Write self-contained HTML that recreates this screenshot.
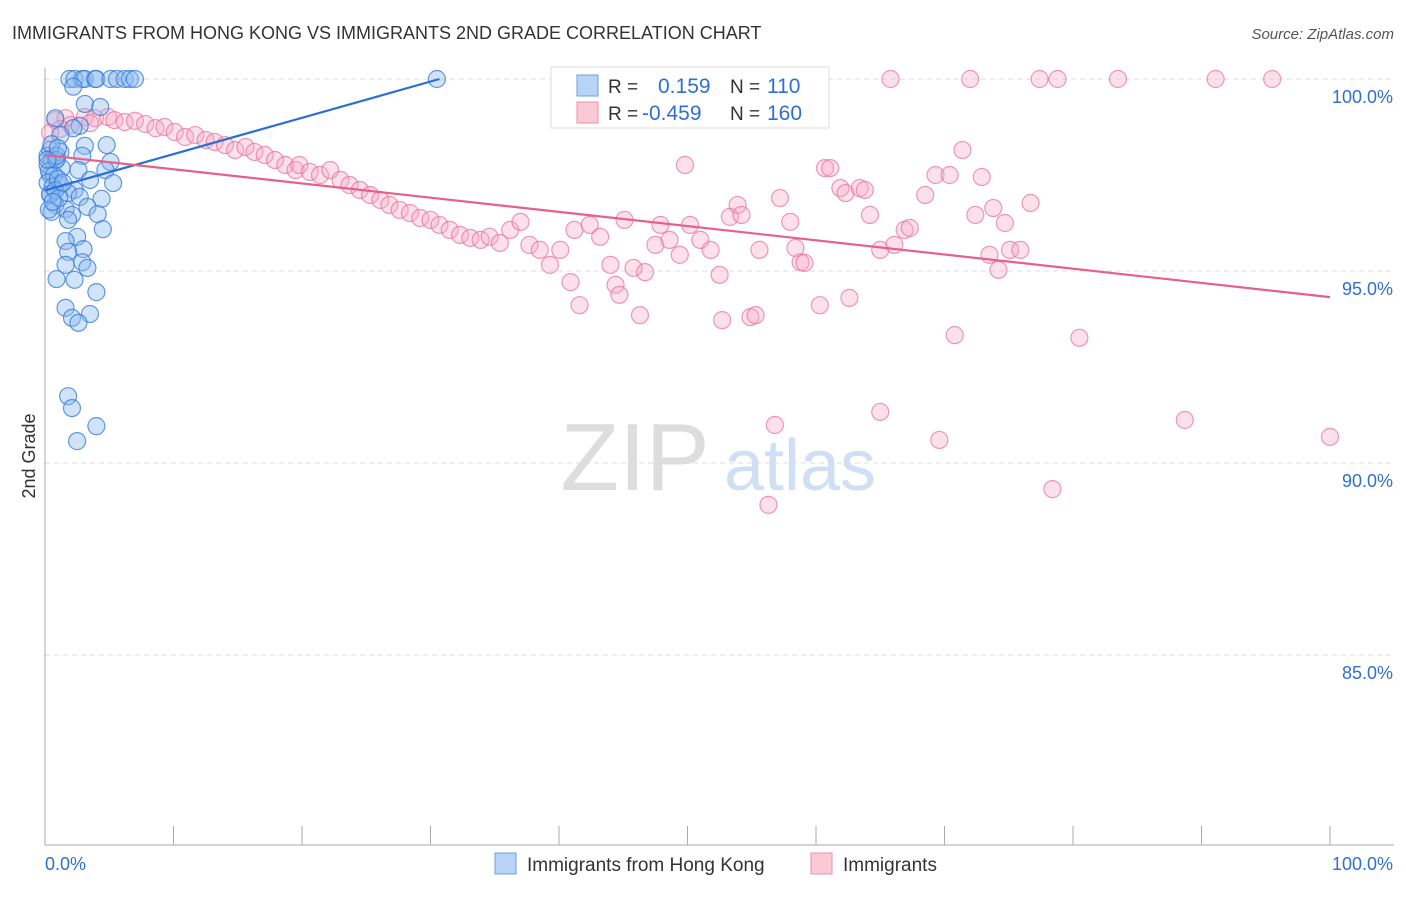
<!DOCTYPE html>
<html><head><meta charset="utf-8"><style>
body{margin:0;background:#fff;font-family:"Liberation Sans",sans-serif;}
svg text{font-family:"Liberation Sans",sans-serif;}
</style></head><body>
<svg id="chart" width="1406" height="892" xmlns="http://www.w3.org/2000/svg">
<text x="12" y="39" font-size="18" fill="#333">IMMIGRANTS FROM HONG KONG VS IMMIGRANTS 2ND GRADE CORRELATION CHART</text>
<text x="1394" y="39" font-size="15" fill="#555" text-anchor="end" font-style="italic">Source: ZipAtlas.com</text>
<text x="35" y="456" font-size="18" fill="#333" text-anchor="middle" transform="rotate(-90 35 456)">2nd Grade</text>
<g><text x="635" y="490" font-size="96" fill="#ddd" text-anchor="middle" font-family="Liberation Serif">ZIP</text><text x="800" y="490" font-size="72" fill="#cfe0f4" text-anchor="middle">atlas</text></g>
<g id="grid"></g><g id="axes"></g><g id="lines"></g><g id="pts"></g>
<g>
<rect x="551" y="67" width="278" height="61" fill="#fff" stroke="#ddd"/>
<rect x="577" y="75" width="21" height="21" fill="#b8d3f5" stroke="#6a9fe0"/>
<rect x="577" y="102" width="21" height="21" fill="#fbc8d6" stroke="#ee90aa"/>
<text x="608" y="93" font-size="19" fill="#333">R =</text><text x="658" y="93" font-size="21" fill="#2f6fd1">0.159</text>
<text x="730" y="93" font-size="19" fill="#333">N =</text><text x="767" y="93" font-size="21" fill="#2f6fd1">110</text>
<text x="608" y="120" font-size="19" fill="#333">R =</text><text x="642" y="120" font-size="21" fill="#2f6fd1">-0.459</text>
<text x="730" y="120" font-size="19" fill="#333">N =</text><text x="767" y="120" font-size="21" fill="#2f6fd1">160</text>
</g>
<g>
<rect x="495" y="853" width="21" height="21" fill="#b8d3f5" stroke="#6a9fe0"/>
<text x="527" y="871" font-size="19" fill="#333">Immigrants from Hong Kong</text>
<rect x="811" y="853" width="21" height="21" fill="#fbc8d6" stroke="#ee90aa"/>
<text x="843" y="871" font-size="19" fill="#333">Immigrants</text>
</g>
</svg>
<script>
const xTicks=[0,10,20,30,40,50,60,70,80,90,100];
const yTicks=[100,95,90,85];
const yTickLabels=["100.0%","95.0%","90.0%","85.0%"];
const xEndLabels=["0.0%","100.0%"];
const blueX=[1.9,2.3,2.9,3.1,3.9,4.0,5.1,5.6,6.2,6.6,7.0,30.5,2.2,3.1,4.3,0.8,2.7,2.2,1.2,4.8,3.1,0.4,1.2,2.9,5.1,0.8,0.2,1.3,2.6,0.4,4.7,3.5,5.3,1.2,2.3,1.8,0.4,2.7,4.4,0.8,1.6,3.3,0.5,2.1,4.1,1.8,4.5,2.5,1.6,3.0,1.8,2.9,1.6,3.3,2.3,0.9,4.0,1.6,3.5,2.1,2.6,1.8,2.1,4.0,2.5,0.2,0.5,0.3,0.7,0.2,0.6,0.9,1.0,0.4,0.8,0.3,1.1,0.5,0.9,1.4,0.2,1.0,0.6];
const blueY=[100,100,100,100,100,100,100,100,100,100,100,100,99.8,99.35,99.27,98.98,98.78,98.72,98.54,98.28,98.26,98.15,98.1,98.0,97.84,97.89,97.76,97.68,97.63,97.5,97.63,97.37,97.29,97.24,97.11,97.03,96.98,96.93,96.88,96.72,96.61,96.67,96.54,96.46,96.48,96.33,96.09,95.89,95.78,95.57,95.5,95.23,95.16,95.08,94.77,94.79,94.45,94.04,93.88,93.78,93.65,91.74,91.43,90.96,90.57,98.0,97.9,97.6,97.5,97.3,97.2,97.9,97.4,97.0,97.1,96.6,96.9,98.3,98.0,97.3,97.9,98.2,96.8];
const pinkX=[0.8,1.6,3.1,3.9,4.9,5.4,6.2,7.0,7.8,8.6,9.3,10.1,10.9,11.7,12.5,13.2,14.0,14.8,15.6,16.3,17.1,17.9,18.7,19.5,19.8,20.6,21.4,22.2,23.0,23.7,24.5,25.3,26.1,26.8,27.6,28.4,29.2,30.0,30.7,31.5,32.3,33.1,33.9,34.6,35.4,36.2,37.0,37.7,38.5,39.3,40.1,40.9,41.2,41.6,42.4,43.2,44.0,44.4,44.7,45.1,45.8,46.3,46.7,47.5,47.9,48.6,49.4,49.8,50.2,51.0,51.8,52.5,52.7,53.3,53.9,54.2,54.9,55.3,55.6,56.8,56.3,57.2,58.0,58.4,58.8,59.1,60.3,60.7,61.1,61.9,62.3,62.6,63.4,63.8,64.2,65.0,65.0,65.8,66.1,66.9,67.3,68.5,69.3,69.6,70.4,70.8,71.4,72.0,72.4,72.9,73.5,73.8,74.2,74.7,75.1,75.9,76.7,77.4,78.4,78.8,80.5,83.5,88.7,91.1,95.5,100,60.0,2.0,1.2,3.5,0.4];
const pinkY=[98.93,98.98,99.01,98.98,99.01,98.93,98.88,98.91,98.83,98.72,98.75,98.62,98.49,98.54,98.41,98.36,98.28,98.15,98.23,98.1,98.02,97.89,97.76,97.63,97.76,97.58,97.5,97.63,97.37,97.24,97.11,96.98,96.85,96.72,96.59,96.51,96.38,96.33,96.2,96.07,95.94,95.86,95.81,95.89,95.73,96.07,96.28,95.68,95.55,95.16,95.55,94.71,96.07,94.11,96.2,95.89,95.16,94.64,94.38,96.33,95.08,93.85,94.97,95.68,96.2,95.81,95.42,97.76,96.2,95.81,95.55,94.9,93.72,96.41,96.72,96.46,93.8,93.85,95.55,90.99,88.91,96.9,96.28,95.6,95.23,95.21,94.11,97.68,97.68,97.16,97.03,94.3,97.16,97.11,96.46,91.33,95.55,100,95.68,96.07,96.12,96.98,97.5,90.6,97.5,93.33,98.15,100,96.46,97.45,95.42,96.64,95.03,96.25,95.55,95.55,96.77,100,89.32,100,93.26,100,91.12,100,100,90.68,99.11,98.8,98.7,98.85,98.6];
const blueLine=[0,97.1,30.7,100];
const pinkLine=[0,98.02,100,94.32];
const NS="http://www.w3.org/2000/svg";
const X0=45,X1=1330,Y0=79,PXP=38.4;
function sx(v){return X0+(X1-X0)*v/100;}
function sy(v){return Y0+(100-v)*PXP;}
function mk(tag,attrs,parent){const e=document.createElementNS(NS,tag);for(const k in attrs)e.setAttribute(k,attrs[k]);parent.appendChild(e);return e;}
const grid=document.getElementById('grid'),axes=document.getElementById('axes'),lines=document.getElementById('lines'),pts=document.getElementById('pts');
yTicks.forEach((t,i)=>{
 const l=mk('line',{x1:X0,x2:1394,y1:sy(t),y2:sy(t),stroke:'#ddd','stroke-dasharray':'5,4'},grid);
 
 
 const tx=mk('text',{x:1393,y:sy(t)+24,'font-size':18,fill:'#2f6fd1','text-anchor':'end'},axes);
 tx.textContent=yTickLabels[i];
 
 
});
const ya=mk('line',{x1:X0,x2:X0,y1:68,y2:845,stroke:'#aaa'},axes);


const xa=mk('line',{x1:X0,x2:1394,y1:845,y2:845,stroke:'#aaa'},axes);


xTicks.forEach(t=>{
 const l=mk('line',{x1:sx(t),x2:sx(t),y1:826,y2:845,stroke:'#aaa'},axes);
 
 
});
const xl0=mk('text',{x:45,y:870,'font-size':18,fill:'#2f6fd1'},axes);xl0.textContent=xEndLabels[0];


const xl1=mk('text',{x:1393,y:870,'font-size':18,fill:'#2f6fd1','text-anchor':'end'},axes);xl1.textContent=xEndLabels[1];


function drawPts(xs,ys,fill,stroke,name){xs.forEach((x,i)=>{
 const c=mk('circle',{cx:sx(x),cy:sy(ys[i]),r:8.5,fill:fill,stroke:stroke,'stroke-width':1.2},pts);
 
 
});}
drawPts(pinkX,pinkY,'rgba(248,170,195,0.35)','rgba(232,110,150,0.7)','point-immigrants');
drawPts(blueX,blueY,'rgba(140,185,240,0.4)','rgba(50,120,215,0.75)','point-hong-kong');
const bl=mk('line',{x1:sx(blueLine[0]),y1:sy(blueLine[1]),x2:sx(blueLine[2]),y2:sy(blueLine[3]),stroke:'#2a6fd6','stroke-width':2.2},lines);


const pl=mk('line',{x1:sx(pinkLine[0]),y1:sy(pinkLine[1]),x2:sx(pinkLine[2]),y2:sy(pinkLine[3]),stroke:'#e8608a','stroke-width':2.2},lines);


document.getElementById('chart').appendChild(lines);
</script>
</body></html>
